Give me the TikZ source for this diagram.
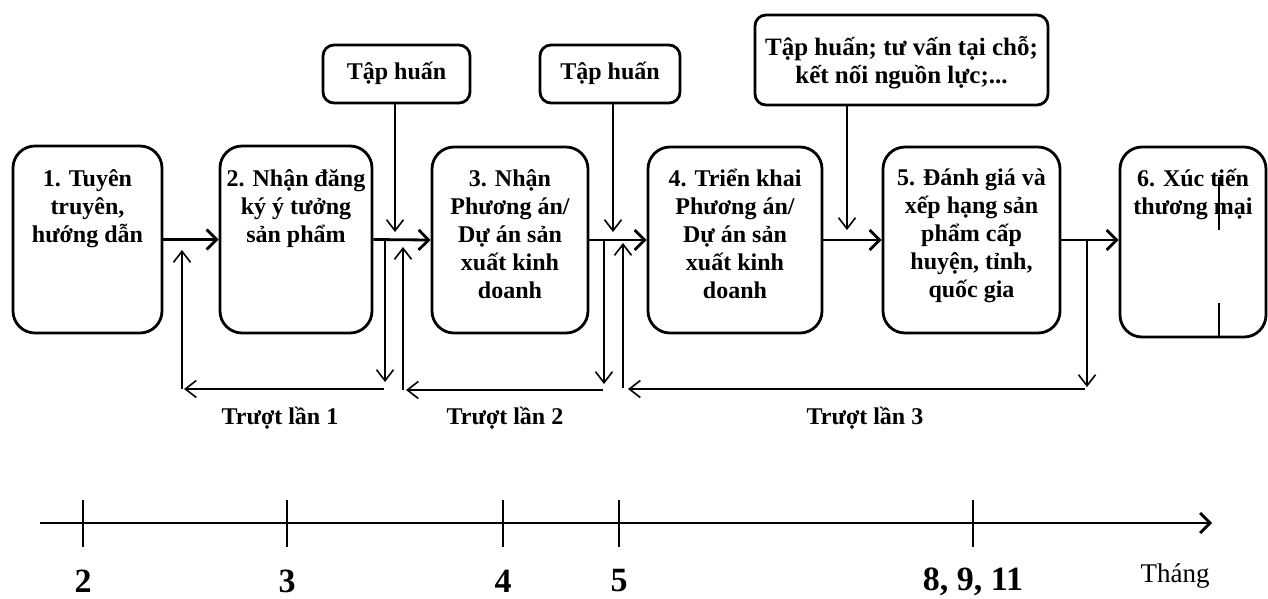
\documentclass[tikz,border=0pt]{standalone}
\usepackage{fontspec}
\setmainfont{Liberation Serif}
\usetikzlibrary{arrows.meta}
\begin{document}
\begin{tikzpicture}[x=1pt,y=-1pt,
 box/.style={draw,line width=2.8pt,rounded corners=22pt,inner sep=0pt},
 tbox/.style={draw,line width=2.8pt,rounded corners=11pt,inner sep=0pt},
 txt/.style={anchor=north,align=center,inner sep=0pt,font=\fontsize{24}{28}\selectfont\bfseries},
 flow/.style={line width=2.8pt,-{Straight Barb[length=10pt,width=20pt,line width=2.8pt]}},
 fb/.style={line width=1.6pt,-{Straight Barb[length=11pt,width=17pt,line width=1.6pt]}},
 lbl/.style={inner sep=0pt,font=\fontsize{24}{28}\selectfont\bfseries},
 num/.style={inner sep=0pt,anchor=base,font=\fontsize{34}{38}\selectfont\bfseries},
 tick/.style={line width=2.5pt},
]
\useasboundingbox (0,0) rectangle (1268,598);

% main boxes
\node[box,minimum width=149pt,minimum height=187pt] (b1) at (87.5,239.5) {};
\node[box,minimum width=152pt,minimum height=187pt] (b2) at (296,239.5) {};
\node[box,minimum width=156pt,minimum height=186pt] (b3) at (510,240) {};
\node[box,minimum width=174pt,minimum height=186pt] (b4) at (735,240) {};
\node[box,minimum width=177pt,minimum height=186pt] (b5) at (971.5,240) {};
\node[box,minimum width=146pt,minimum height=190pt] (b6) at (1193,242) {};

\node[txt] (x1) at (87.5,169) {1. Tuyên\\truyên,\\hướng dẫn};
\node[txt] (x2) at (296,169) {2. Nhận đăng\\ký ý tưởng\\sản phẩm};
\node[txt] (x3) at (510,169) {3. Nhận\\Phương án/\\Dự án sản\\xuất kinh\\doanh};
\node[txt] (x4) at (735,169) {4. Triển khai\\Phương án/\\Dự án sản\\xuất kinh\\doanh};
\node[txt] (x5) at (971.5,169) {5. Đánh giá và\\xếp hạng sản\\phẩm cấp\\huyện, tỉnh,\\quốc gia};
\node[txt] (x6) at (1193,169) {6. Xúc tiến\\thương mại};

% top boxes
\node[tbox,minimum width=147pt,minimum height=58pt] (t1) at (396.5,74) {};
\node[tbox,minimum width=140pt,minimum height=58pt] (t2) at (610,74) {};
\node[tbox,minimum width=293pt,minimum height=90pt] (t3) at (901.5,60) {};
\node[txt] (y1) at (396.5,62) {Tập huấn};
\node[txt] (y2) at (610,62) {Tập huấn};
\node[txt,font=\fontsize{25}{28}\selectfont\bfseries] (y3) at (901.5,36) {Tập huấn; tư vấn tại chỗ;\\kết nối nguồn lực;...};

% main flow arrows
\draw[flow] (b1.east) -- (b2.west);
\draw[flow] (b2.east) -- (b3.west);
\draw[flow] (b3.east) -- (b4.west);
\draw[flow] (b4.east) -- (b5.west);
\draw[flow] (b5.east) -- (b5.east -| b6.west);

% support arrows
\coordinate (s1) at (395,232);
\coordinate (s2) at (613,232);
\coordinate (s3top) at (847,105);
\coordinate (s3) at (847,230);
\draw[fb] (t1.south -| s1) -- (s1);
\draw[fb] (t2.south -| s2) -- (s2);
\draw[fb] (s3top) -- (s3);

% slip loop 1
\coordinate (a1) at (385,240);
\coordinate (a1d) at (385,382);
\coordinate (h1r) at (384,389);
\coordinate (h1l) at (184,389);
\coordinate (u1b) at (182,389);
\coordinate (u1t) at (182,250);
\draw[fb] (a1) -- (a1d);
\draw[fb] (h1r) -- (h1l);
\draw[fb] (u1b) -- (u1t);

% slip loop 2
\coordinate (a2) at (604,240);
\coordinate (a2d) at (604,384);
\coordinate (h2r) at (603,390);
\coordinate (h2l) at (406,390);
\coordinate (u2b) at (403,390);
\coordinate (u2t) at (403,247);
\draw[fb] (a2) -- (a2d);
\draw[fb] (h2r) -- (h2l);
\draw[fb] (u2b) -- (u2t);

% slip loop 3
\coordinate (a3) at (1087,241);
\coordinate (a3d) at (1087,387);
\coordinate (h3r) at (1085,389);
\coordinate (h3l) at (628,389);
\coordinate (u3b) at (623,388);
\coordinate (u3t) at (623,243);
\draw[fb] (a3) -- (a3d);
\draw[fb] (h3r) -- (h3l);
\draw[fb] (u3b) -- (u3t);

\node[lbl] (l1) at (280,418) {Trượt lần 1};
\node[lbl] (l2) at (505,418) {Trượt lần 2};
\node[lbl] (l3) at (865,418) {Trượt lần 3};

% stray marks in box 6
\draw[line width=1.3pt] (1219,177) -- (1219,230);
\draw[line width=1.3pt] (1219,303) -- (1219,337);

% timeline
\coordinate (ts) at (40,523);
\coordinate (te) at (1212,523);
\draw[flow] (ts) -- (te);
\foreach \p/\n in {83/k2,287/k3,503/k4,619/k5,973/k8}{
  \coordinate (\n) at (\p,523);
  \draw[tick] (\p,500) -- (\p,547);
}
\node[num] (m2) at (83,592) {2};
\node[num] (m3) at (287,592) {3};
\node[num] (m4) at (503,592) {4};
\node[num] (m5) at (619,591) {5};
\node[num] (m8) at (973,590) {8, 9, 11};
\node[inner sep=0pt,font=\fontsize{27}{30}\selectfont,anchor=base] (th) at (1175,582) {Tháng};
\end{tikzpicture}
\end{document}
